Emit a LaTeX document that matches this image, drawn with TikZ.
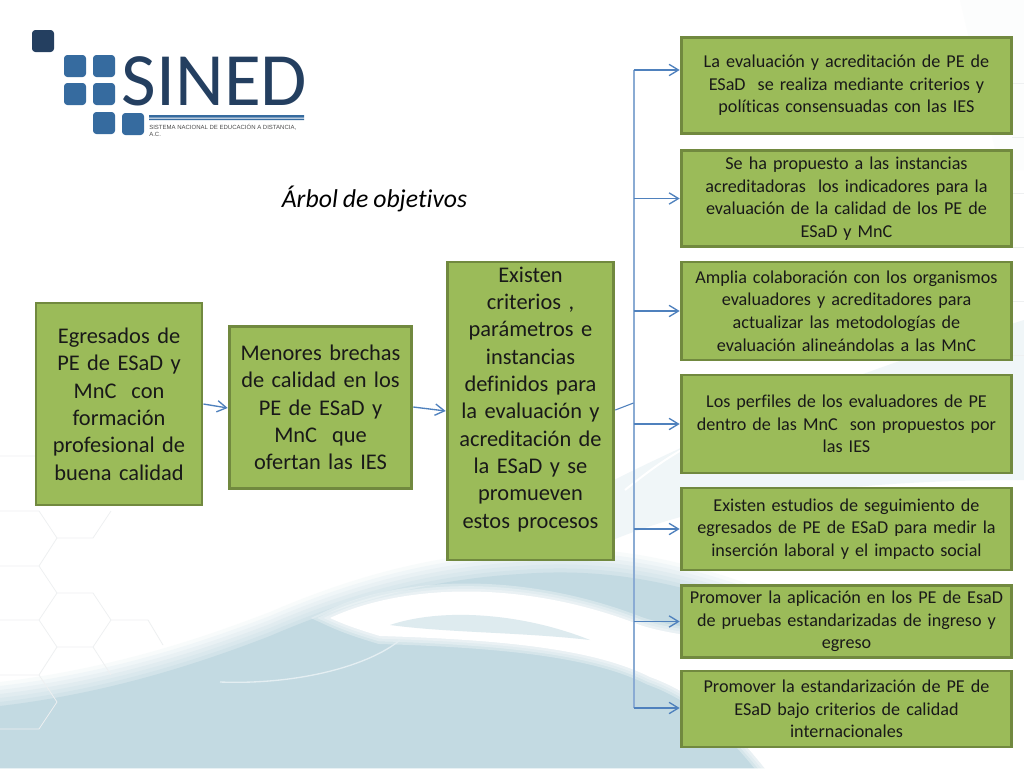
\documentclass[tikz,border=0pt]{standalone}
\usepackage{fontspec}
\setmainfont{Carlito}[Ligatures=NoCommon,WordSpace=0.85]
\newfontfamily\logofont{Liberation Sans}
\usetikzlibrary{arrows.meta}
\definecolor{boxfill}{HTML}{9BBB59}
\definecolor{boxline}{HTML}{71893F}
\definecolor{linkblue}{HTML}{4F81BD}
\definecolor{trunkblue}{HTML}{8AABD3}
\definecolor{logodark}{HTML}{243F60}
\definecolor{logoblue}{HTML}{366B9F}
\definecolor{seablue}{HTML}{C3DAE2}
\definecolor{hexgrey}{HTML}{EEF0F1}
\newcommand{\swooshpath}{(330,618) .. controls (400,585) and (520,578) .. (640,625) .. controls (700,645) and (860,650) .. (1030,650) -- (1030,775) -- (770,775) .. controls (735,730) and (700,695) .. (650,677) .. controls (600,652) and (520,640) .. (380,636) .. controls (360,630) and (345,625) .. (330,618) -- cycle}
\tikzset{
    goalbox/.style={draw=boxline,line width=2.2pt,fill=boxfill,align=center,text=black!90,inner sep=0pt,font=\fontsize{16.8}{20.5}\selectfont},
    smallbox/.style={goalbox,font=\fontsize{13.6}{16.9}\selectfont},
    link/.style={-{Straight Barb[length=7pt,width=8.5pt]},linkblue,line width=1pt},
    tile/.style={fill=logoblue,rounded corners=2.5pt}
}
\begin{document}
\begin{tikzpicture}[x=0.75pt,y=-0.75pt]
    \useasboundingbox (0,0) rectangle (1024,768);
    \fill[white] (0,0) rectangle (1024,768);

    % background
    \fill[seablue!5] (960,0) -- (1024,0) -- (1024,170) -- (1000,170) -- cycle;
    \fill[seablue!25] (440,565) .. controls (560,520) and (640,440) .. (1024,320) -- (1024,480) .. controls (800,480) and (660,510) .. (560,565) -- cycle;
    \draw[white,line width=1.5pt] (625,490) .. controls (650,470) and (670,455) .. (700,440);
    \foreach \soft/\lift in {12/24,25/20,37/16,50/12,62/8,75/4,100/0}
        \fill[seablue!\soft] (0,706-\lift) .. controls (110,693-\lift) and (200,663-\lift) .. (270,636-\lift) .. controls (340,606-\lift) and (420,580-\lift) .. (520,574-\lift) .. controls (600,568-\lift) and (680,578-\lift) .. (800,628-\lift) -- (800,768) -- (0,768) -- cycle;
    \foreach \halo in {12,8,4}
        \draw[white,opacity=0.3,line width=\halo pt] \swooshpath;
    \fill[white] \swooshpath;
    \fill[seablue!55] (390,625) .. controls (440,608) and (520,612) .. (590,640) .. controls (520,632) and (450,633) .. (390,625) -- cycle;
    \draw[seablue!45!white,line width=1pt] (220,682) .. controls (300,685) and (370,665) .. (400,640);
    \draw[hexgrey,line width=0.6pt] (0,456) -- (35,456) (0,511) -- (39,511) -- (57,538) -- (93,538) -- (111,511)
        (57,538) -- (39,566) -- (0,566) (39,566) -- (57,593) -- (93,593) -- (111,620) -- (93,647) -- (57,647) -- (39,620) -- (57,593)
        (39,620) -- (0,620) (111,620) -- (148,620) -- (163,645) (93,647) -- (111,675) (57,647) -- (39,675) -- (0,675)
        (39,675) -- (57,702) -- (39,729) -- (0,729);
    \foreach \ticky in {83,137,193,247,301,355}
        \draw[hexgrey,line width=0.6pt] (1012,\ticky) -- (1024,\ticky);

    % logo
    \fill[logodark,rounded corners=2.5pt] (32,30) rectangle (54,52);
    \foreach \tilex/\tiley in {64/55,93/55,64/83,93/83,93/112,122/113}
        \fill[tile] (\tilex,\tiley) rectangle +(22,22);
    \node[text=logodark,font=\fontsize{56.5}{58}\selectfont] (logoname) at (214.5,81) {SINED};
    \fill[logoblue] (149,115) rectangle (304,117.5) (149,118.5) rectangle (304,120);
    \node[anchor=north west,inner sep=0pt,align=left,text=black!70,font=\logofont\fontsize{4.5}{5.6}\selectfont] (logotext) at (149,124)
        {SISTEMA NACIONAL DE EDUCACIÓN A DISTANCIA,\\ A.C.};

    % title
    \node[font=\fontsize{19.3}{22}\selectfont\itshape] (title) at (374.5,199) {Árbol de objetivos};

    % boxes
    \begin{scope}
        \node[goalbox,minimum width=124.5pt,minimum height=151.5pt,text width=118pt] (E) at (119,404) {Egresados de\\ PE de ESaD y\\ MnC\ \ con\\ formación\\ profesional de\\ buena calidad};
        \node[goalbox,minimum width=137pt,minimum height=122pt,text width=132pt] (M) at (320.5,407.5) {Menores brechas\\ de calidad en los\\ PE de ESaD y\\ MnC\ \ que\\ ofertan las IES};
        \node[goalbox,minimum width=125pt,minimum height=223.5pt,text width=118pt] (C) at (530.5,411) {Existen\\ criterios ,\\ parámetros e\\ instancias\\ definidos para\\ la evaluación y\\ acreditación de\\ la ESaD y se\\ promueven\\ estos procesos\\[-0.25pt]\mbox{}};
    \end{scope}
    \begin{scope}[every node/.append style={smallbox,minimum width=248pt,text width=244pt}]
        \node[minimum height=72.5pt] (R1) at (846.5,85.5) {La evaluación y acreditación de PE de\\ ESaD\ \ se realiza mediante criterios y\\ políticas consensuadas con las IES};
        \node[minimum height=72.5pt] (R2) at (846.5,198.5) {Se ha propuesto a las instancias\\ acreditadoras\ \ los indicadores para la\\ evaluación de la calidad de los PE de\\ ESaD y MnC};
        \node[minimum height=73.5pt] (R3) at (846.5,311) {Amplia colaboración con los organismos\\ evaluadores y acreditadores para\\ actualizar las metodologías de\\ evaluación alineándolas a las MnC};
        \node[minimum height=73.5pt] (R4) at (846.5,424) {Los perfiles de los evaluadores de PE\\ dentro de las MnC\ \ son propuestos por\\ las IES};
        \node[minimum height=61.5pt] (R5) at (846.5,529) {Existen estudios de seguimiento de\\ egresados de PE de ESaD para medir la\\ inserción laboral y el impacto social};
        \node[minimum height=54.5pt] (R6) at (846.5,621.5) {Promover la aplicación en los PE de EsaD\\ de pruebas estandarizadas de ingreso y\\ egreso};
        \node[minimum height=57pt] (R7) at (846.5,709) {Promover la estandarización de PE de\\ ESaD bajo criterios de calidad\\ internacionales};
    \end{scope}

    % trunk
    \coordinate (T) at (633.5,403);
    \coordinate (TR1) at (633.5,70);
    \coordinate (TR7) at (633.5,708);
    \draw[trunkblue,line width=1.5pt] (TR1) -- (TR7);
    \draw[linkblue,line width=0.8pt] (C.east |- 0,410) -- (T);
    \draw[link] (TR1) -- (R1.west |- TR1);
    \foreach \target in {R2,R3,R4,R5,R6}
        \draw[link] (T |- \target) -- (\target);
    \draw[link] (TR7) -- (R7.west |- TR7);

    % links
    \draw[link] (E.east |- 0,404) -- (M.west |- 0,408);
    \draw[link] (M.east |- 0,407) -- (C.west |- 0,411);
\end{tikzpicture}
\end{document}
